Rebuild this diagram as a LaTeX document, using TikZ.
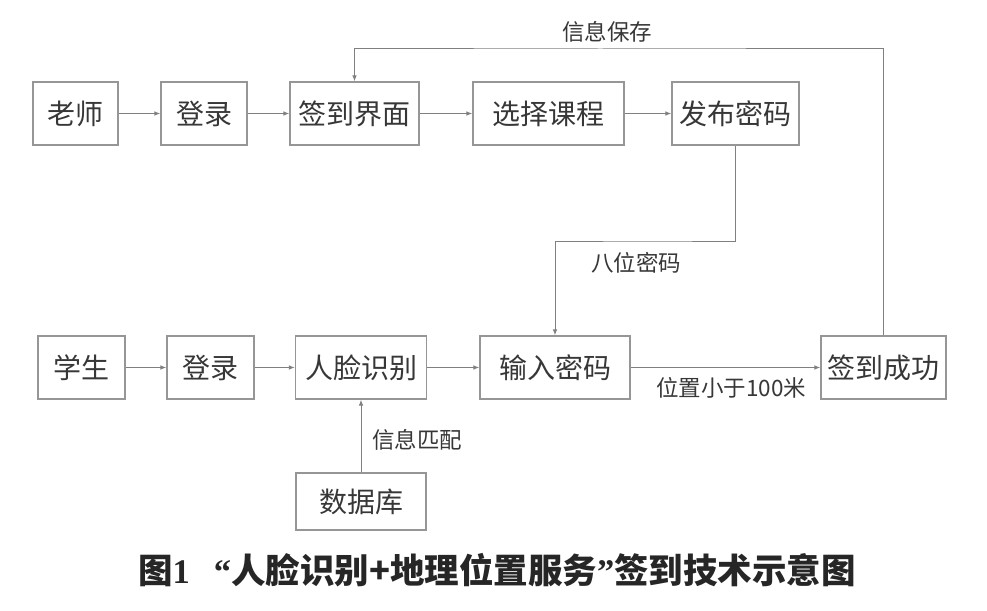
\documentclass[tikz,border=0pt]{standalone}
\usepackage{fontspec}
\setmainfont{Noto Sans CJK SC}
\newfontfamily\numfont{Liberation Serif}
\usetikzlibrary{arrows.meta,positioning}

\definecolor{boxline}{RGB}{150,150,150}
\definecolor{txt}{RGB}{55,55,55}

\begin{document}
\begin{tikzpicture}
[x=1pt,y=-1pt,
   box/.style={draw=boxline,line width=1.1pt,text=txt,font=\fontsize{28}{28}\selectfont,
     inner sep=0pt,minimum height=63pt},
   lab/.style={text=txt,font=\fontsize{22.5}{22.5}\selectfont,inner sep=0pt},
   arr/.style={draw=boxline!85!black,line width=1pt,-{Latex[length=6pt,width=4.5pt]}}]
\useasboundingbox (0,0) rectangle (987,610);

% teacher row
\node[box,minimum width=85pt] (teacher) at (75.5,113.5) {老师};
\node[box,minimum width=86pt] (login1) at (204,113.5) {登录};
\node[box,minimum width=129pt] (sign) at (354.5,113.5) {签到界面};
\node[box,minimum width=151pt] (course) at (548.5,113.5) {选择课程};
\node[box,minimum width=127pt] (pub) at (735.5,113.5) {发布密码};

% student row
\node[box,minimum width=87pt] (student) at (81.5,367.5) {学生};
\node[box,minimum width=87pt] (login2) at (210.5,367.5) {登录};
\node[box,minimum width=131pt] (face) at (361,367.5) {人脸识别};
\node[box,minimum width=150pt] (input) at (555,367.5) {输入密码};
\node[box,minimum width=125pt] (succ) at (883.5,367.5) {签到成功};
\node[box,minimum width=130pt,minimum height=57pt] (db) at (361,501.5) {数据库};

\coordinate (top) at (600,49);
\coordinate (bend) at (650,241);

\draw[arr] (teacher) -- (login1);
\draw[arr] (login1) -- (sign);
\draw[arr] (sign) -- (course);
\draw[arr] (course) -- (pub);
\draw[arr] (student) -- (login2);
\draw[arr] (login2) -- (face);
\draw[arr] (face) -- (input);
\draw[arr] (input) -- (succ);
\draw[arr] (db) -- (face);
\draw[arr] (pub.south) |- (bend) -| (input.north);
\draw[arr] (succ.north) |- (top) -| (sign.north);

\node[lab] (save) at (607,32) {信息保存};
\node[lab] (eight) at (636,263) {八位密码};
\node[lab] (match) at (417,440) {信息匹配};
\node[lab] (dist) at (731,388) {位置小于100米};

\node[font=\fontsize{34.5}{34.5}\selectfont\bfseries,text=black!85] (cap) at (497,570)
  {图{\numfont\bfseries 1}\hspace{0.7em}{\numfont\bfseries “}人脸识别+地理位置服务{\numfont\bfseries ”}签到技术示意图};
\end{tikzpicture}
\end{document}
